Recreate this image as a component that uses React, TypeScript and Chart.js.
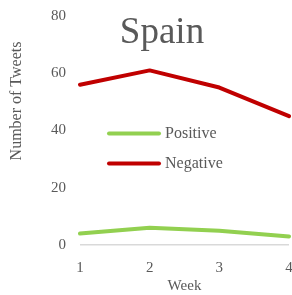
import React, { useEffect, useRef } from "react";
import { Chart, registerables } from "chart.js";

Chart.register(...registerables);

const weeks = ["1", "2", "3", "4"];
const positiveValues = [4, 6, 5, 3];
const negativeValues = [56, 61, 55, 45];
const yTicks = [0, 20, 40, 60, 80];
const titleText = "Spain";
const yTitle = "Number of Tweets";
const xTitle = "Week";
const seriesNames = ["Positive", "Negative"];
const seriesColors = ["#92D050", "#C00000"];

const FONT = "'Liberation Serif', 'Times New Roman', serif";
const TEXT = "#595959";

const overlayPlugin = {
  id: "overlay",
  afterDraw(chart: any) {
    const ctx = chart.ctx;
    ctx.save();
    ctx.fillStyle = TEXT;
    // title
    ctx.font = `37px ${FONT}`;
    ctx.textAlign = "center";
    ctx.textBaseline = "alphabetic";
    ctx.fillText(titleText, 162, 43);
    // y title
    ctx.save();
    ctx.translate(21, 101);
    ctx.rotate(-Math.PI / 2);
    ctx.font = `16px ${FONT}`;
    ctx.textAlign = "center";
    ctx.textBaseline = "alphabetic";
    ctx.fillText(yTitle, 0, 0);
    ctx.restore();
    // legend
    const rows = [133.5, 163.5];
    seriesNames.forEach((name, i) => {
      const y = rows[i];
      ctx.strokeStyle = seriesColors[i];
      ctx.lineWidth = 4;
      ctx.lineCap = "round";
      ctx.beginPath();
      ctx.moveTo(109, y);
      ctx.lineTo(159, y);
      ctx.stroke();
      ctx.fillStyle = TEXT;
      ctx.font = `16px ${FONT}`;
      ctx.textAlign = "left";
      ctx.textBaseline = "middle";
      ctx.fillText(name, 165, y);
    });
    ctx.restore();
  },
};

export default function App() {
  const ref = useRef<HTMLCanvasElement>(null);
  useEffect(() => {
    if (!ref.current) return;
    const chart = new Chart(ref.current, {
      type: "line",
      data: {
        labels: weeks,
        datasets: [
          {
            label: seriesNames[0],
            data: positiveValues,
            borderColor: seriesColors[0],
            backgroundColor: seriesColors[0],
            borderWidth: 4,
            pointRadius: 0,
            borderCapStyle: "round",
            borderJoinStyle: "round",
            tension: 0,
          },
          {
            label: seriesNames[1],
            data: negativeValues,
            borderColor: seriesColors[1],
            backgroundColor: seriesColors[1],
            borderWidth: 4,
            pointRadius: 0,
            borderCapStyle: "round",
            borderJoinStyle: "round",
            tension: 0,
          },
        ],
      },
      options: {
        animation: false,
        responsive: false,
        maintainAspectRatio: false,
        layout: { padding: { top: 16, right: 3, left: 0, bottom: 0 } },
        plugins: {
          legend: { display: false },
          title: { display: false },
          tooltip: { enabled: false },
        },
        scales: {
          x: {
            grid: { display: false },
            border: { display: false },
            ticks: {
              color: TEXT,
              font: { family: FONT, size: 15 },
              padding: 6,
              maxRotation: 0,
            },
            title: {
              display: true,
              text: xTitle,
              color: TEXT,
              font: { family: FONT, size: 15 },
              padding: { top: 2, bottom: 0 },
            },
            afterFit: (s: any) => {
              s.height = 50;
              s.paddingLeft = 0;
              s.paddingRight = 0;
            },
          },
          y: {
            min: 0,
            max: 80,
            afterBuildTicks: (s: any) => {
              s.ticks = yTicks.map((v) => ({ value: v }));
            },
            grid: {
              drawTicks: false,
              color: (c: any) => (c.tick && c.tick.value === 0 ? "#D9D9D9" : "rgba(0,0,0,0)"),
              lineWidth: 1.5,
            },
            border: { display: false },
            ticks: {
              color: TEXT,
              font: { family: FONT, size: 15 },
              padding: 14,
            },
            afterFit: (s: any) => {
              s.width = 80;
              s.paddingTop = 0;
              s.paddingBottom = 0;
            },
          },
        },
      },
      plugins: [overlayPlugin],
    });
    return () => chart.destroy();
  }, []);
  return (
    <div style={{ position: "fixed", left: 0, top: 0, width: 292, height: 295, background: "#fff" }}>
      <canvas ref={ref} width={292} height={295} style={{ width: 292, height: 295 }} />
    </div>
  );
}
